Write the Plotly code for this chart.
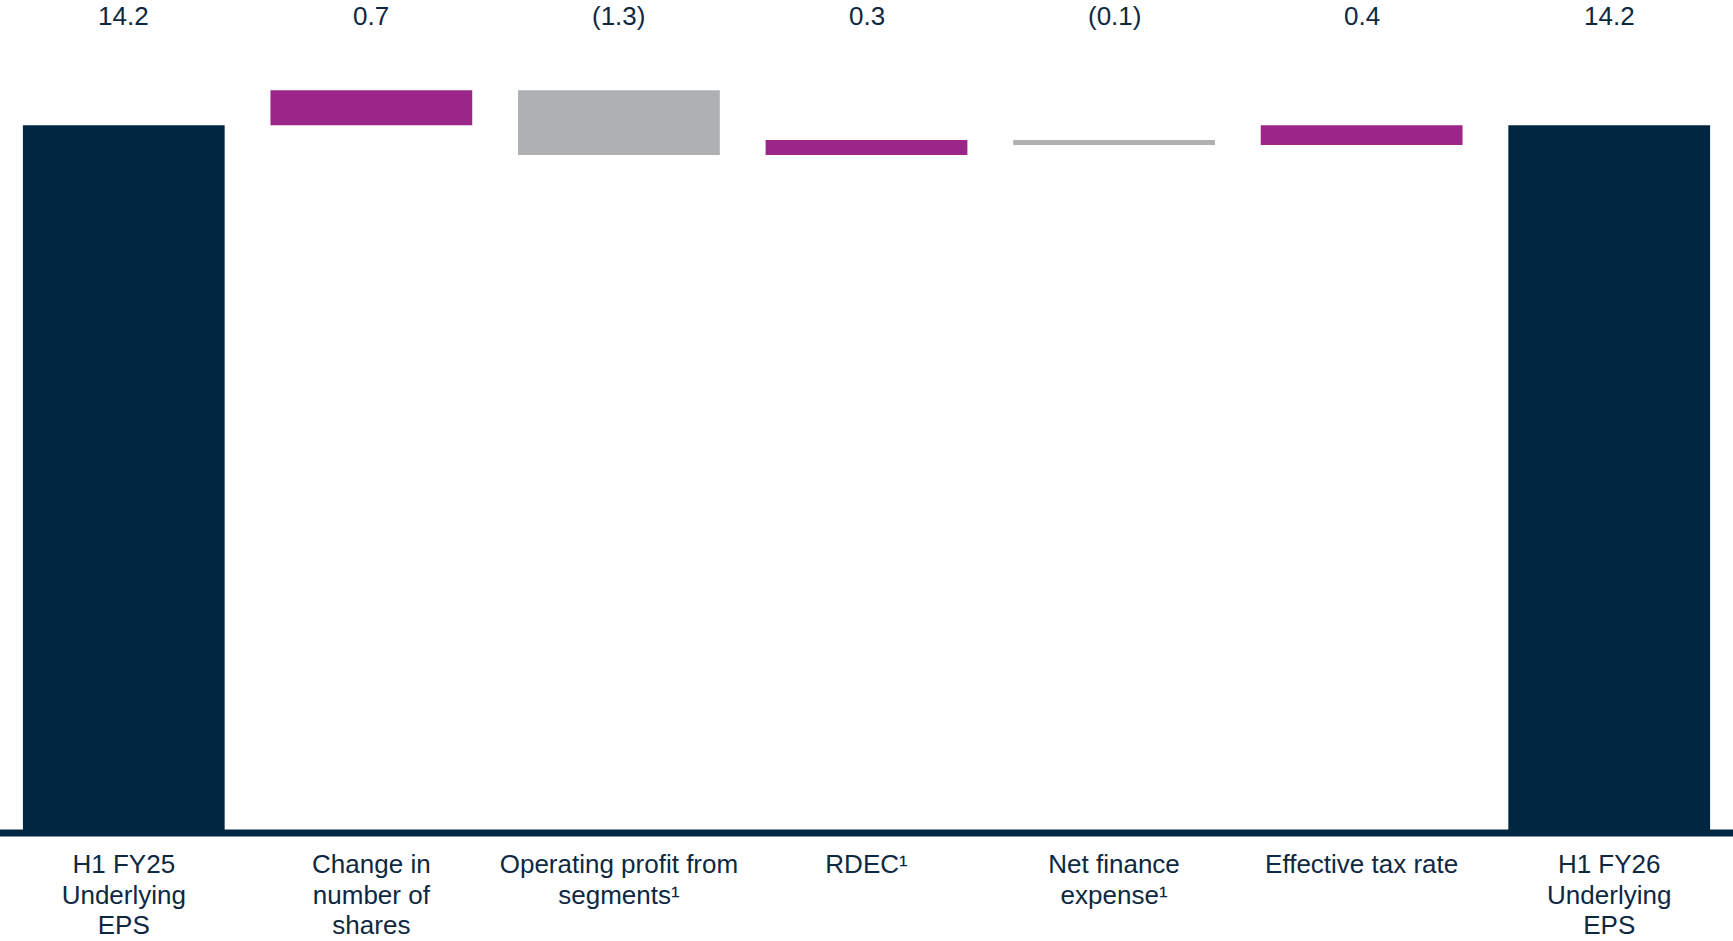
import plotly.graph_objects as go

categories = [
    "H1 FY25<br>Underlying<br>EPS",
    "Change in<br>number of<br>shares",
    "Operating profit from<br>segments¹",
    "RDEC¹",
    "Net finance<br>expense¹",
    "Effective tax rate",
    "H1 FY26<br>Underlying<br>EPS",
]
values = [14.2, 0.7, -1.3, 0.3, -0.1, 0.4, 14.2]
measures = ["absolute", "relative", "relative", "relative", "relative", "relative", "total"]
value_labels = ["14.2", "0.7", "(1.3)", "0.3", "(0.1)", "0.4", "14.2"]

NAVY = "#002642"
PINK = "#9B2589"
GREY = "#AEB0B2"
TEXT = "#0E2841"
FONT = "Liberation Sans, Arial, sans-serif"

# tick text: visually 26px glyphs with tighter line spacing (base size 23.4)
tick_text = [
    "<br>".join(f"<span style='font-size:26px'>{ln}</span>" for ln in c.split("<br>"))
    for c in categories
]

fig = go.Figure()
fig.add_trace(go.Waterfall(
    x=categories,
    y=[v if m != "total" else 0 for v, m in zip(values, measures)],
    measure=measures,
    increasing=dict(marker=dict(color=PINK)),
    decreasing=dict(marker=dict(color=GREY)),
    totals=dict(marker=dict(color=NAVY)),
    connector=dict(visible=False),
    hoverinfo="skip",
    textinfo="none",
))

for cat, lab in zip(categories, value_labels):
    fig.add_annotation(
        x=cat, y=0.9815, xref="x", yref="paper",
        text=lab, showarrow=False, yanchor="middle",
        font=dict(size=26, color=TEXT, family=FONT),
    )

fig.add_shape(
    type="line", xref="paper", yref="y", x0=0, x1=1, y0=0, y1=0,
    line=dict(color=NAVY, width=7), layer="above",
)

fig.update_layout(
    width=1733, height=941,
    margin=dict(l=0, r=0, t=0, b=102.5, autoexpand=False),
    plot_bgcolor="white", paper_bgcolor="white",
    showlegend=False,
    waterfallgap=0.185,
    font=dict(family=FONT, color=TEXT, size=26),
    xaxis=dict(
        showgrid=False, zeroline=False, showline=False, automargin=False,
        tickmode="array", tickvals=categories, ticktext=tick_text,
        ticks="outside", ticklen=6, tickcolor="rgba(0,0,0,0)",
        tickfont=dict(size=23.4, color=TEXT, family=FONT),
        fixedrange=True,
    ),
    yaxis=dict(
        range=[-0.1, 16.71], visible=False, showgrid=False, zeroline=False,
        automargin=False, fixedrange=True,
    ),
)

fig.write_html("out.html")
